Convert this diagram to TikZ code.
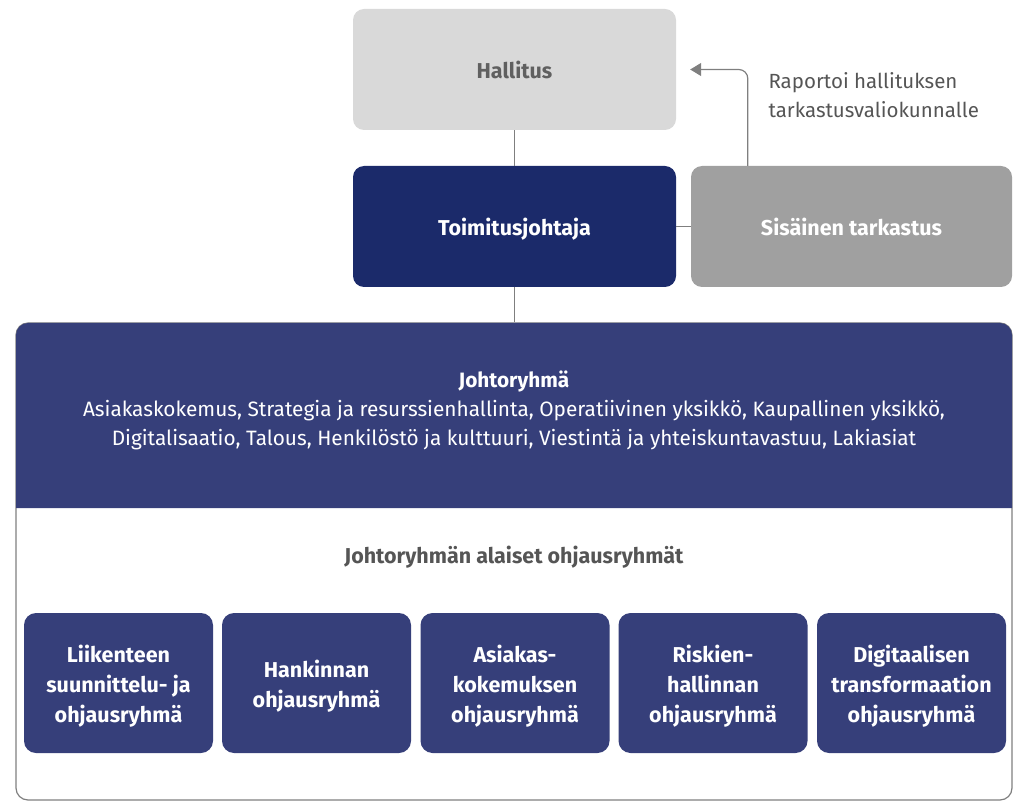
\documentclass[tikz,border=0pt]{standalone}
\usepackage{fontspec}
\setmainfont{Fira Sans}
\usetikzlibrary{arrows.meta}
\definecolor{boardgray}{HTML}{D9D9D9}
\definecolor{boardtext}{HTML}{606060}
\definecolor{ceonavy}{HTML}{1B2A6A}
\definecolor{auditgray}{HTML}{A0A0A0}
\definecolor{teamblue}{HTML}{363F7A}
\definecolor{linegray}{HTML}{7F7F7F}
\definecolor{labelgray}{HTML}{555555}
\tikzset{
  orgbox/.style={rounded corners=11pt, minimum width=323pt, minimum height=121pt,
    inner sep=0pt, text height=18pt, text depth=0pt,
    font=\fontsize{21.5}{25}\selectfont\bfseries, align=center},
  groupbox/.style={rounded corners=12pt, fill=teamblue,
    minimum width=189pt, minimum height=140pt, inner sep=0pt},
  grouptext/.style={text=white, inner sep=0pt, yshift=-3pt, align=center,
    font=\fontsize{21.5}{30}\selectfont\bfseries},
  link/.style={draw=linegray, line width=1.2pt},
}
\begin{document}
\begin{tikzpicture}[x=1pt,y=-1pt]
\useasboundingbox (0,0) rectangle (1020,802);

% top of the hierarchy
\node[orgbox, fill=boardgray, text=boardtext] (hal) at (514.5,69.5) {Hallitus};
\node[orgbox, fill=ceonavy, text=white] (ceo) at (514.5,226.5) {Toimitusjohtaja};
\node[orgbox, fill=auditgray, text=white, minimum width=321pt] (sis) at (851.5,226.5) {Sisäinen tarkastus};

% management team frame
\node[draw=linegray, line width=1.2pt, rounded corners=12pt, minimum width=996pt,
      minimum height=477pt, inner sep=0pt] (frame) at (514,561.5) {};
\fill[teamblue] (16,508) -- (16,335) arc (180:270:12) -- (1000,323)
   arc (270:360:12) -- (1012,508) -- cycle;
\node[text=white, align=center, font=\fontsize{20.8}{29}\selectfont] (jr) at (514,410.5)
  {\textbf{Johtoryhmä}\\
   Asiakaskokemus, Strategia ja resurssienhallinta, Operatiivinen yksikkö, Kaupallinen yksikkö,\\
   Digitalisaatio, Talous, Henkilöstö ja kulttuuri, Viestintä ja yhteiskuntavastuu, Lakiasiat};
\node[text=labelgray, font=\fontsize{21.5}{25}\selectfont\bfseries] (sub) at (514,557)
  {Johtoryhmän alaiset ohjausryhmät};

% steering groups
\node[groupbox, label={[grouptext]center:{Liikenteen\\suunnittelu- ja\\ohjausryhmä}}] (g1) at (118.5,683) {};
\node[groupbox, label={[grouptext]center:{Hankinnan\\ohjausryhmä}}] (g2) at (316.5,683) {};
\node[groupbox, label={[grouptext]center:{Asiakas-\\kokemuksen\\ohjausryhmä}}] (g3) at (515,683) {};
\node[groupbox, label={[grouptext]center:{Riskien-\\hallinnan\\ohjausryhmä}}] (g4) at (713,683) {};
\node[groupbox, label={[grouptext]center:{Digitaalisen\\transformaation\\ohjausryhmä}}] (g5) at (911.5,683) {};

% connectors
\draw[link] (hal.south) -- (ceo.north);
\draw[link] (ceo.east) -- (sis.west);
\draw[link] (ceo.south) -- (frame.north -| ceo.south);
\draw[link, rounded corners=9pt, -{Triangle[length=11pt,width=13pt]}]
  ([xshift=57pt]sis.north west) |- ([xshift=14pt]hal.east);

\node[text=labelgray, align=left, anchor=west, font=\fontsize{20.5}{29}\selectfont]
  (rep) at (765,95) {Raportoi hallituksen\\tarkastusvaliokunnalle};
\end{tikzpicture}
\end{document}
